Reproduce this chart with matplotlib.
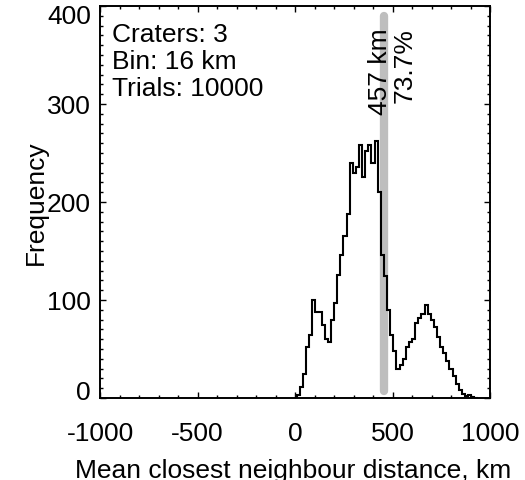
import numpy as np
import matplotlib
matplotlib.use('Agg')
import matplotlib.pyplot as plt
import matplotlib.transforms as mtransforms
from matplotlib.ticker import MultipleLocator

# histogram of mean closest neighbour distance (16 km bins)
bin_start = 8
bin_width = 16
counts = [3, 11, 25, 52, 64, 100, 88, 88, 74, 60,
          57, 80, 97, 126, 146, 165, 188, 240, 230, 236,
          258, 226, 252, 258, 240, 262, 210, 146, 125, 90,
          64, 48, 30, 34, 40, 52, 57, 60, 77, 82,
          86, 95, 86, 80, 72, 62, 52, 46, 38, 30,
          22, 14, 8, 4, 2, 3, 1, 0]

observed_km = 457
observed_pct = 73.7
info_lines = ['Craters: 3', 'Bin: 16 km', 'Trials: 10000']
xticks = [-1000, -500, 0, 500, 1000]
yticks = [0, 100, 200, 300, 400]

plt.rcParams['font.family'] = ['Liberation Sans', 'DejaVu Sans']
plt.rcParams['font.size'] = 19
plt.rcParams['axes.unicode_minus'] = False

fig = plt.figure(figsize=(5.25, 4.8), dpi=100)
ax = fig.add_axes([0.1905, 0.1708, 0.7429, 0.8167])

edges = bin_start + bin_width * np.arange(len(counts) + 1)
ax.plot([observed_km, observed_km], [7, 390], color='#bebebe', lw=6,
        solid_capstyle='round', zorder=1)
ax.stairs(counts, edges, color='black', lw=1.5, zorder=2)

ax.text(472, 377, f'{observed_km} km', rotation=90,
        rotation_mode='anchor', ha='right', va='baseline')
ax.text(600, 377, f'{observed_pct}%', rotation=90,
        rotation_mode='anchor', ha='right', va='baseline')

for i, line in enumerate(info_lines):
    ax.text(0.031, 0.908 - 0.069 * i, line, transform=ax.transAxes,
            ha='left', va='baseline')

ax.set_xlim(-1000, 1000)
ax.set_ylim(0, 400)
ax.set_xticks(xticks)
ax.set_yticks(yticks)
ax.xaxis.set_minor_locator(MultipleLocator(100))
ax.yaxis.set_minor_locator(MultipleLocator(10))
ax.tick_params(which='both', direction='in', top=True, right=True, width=1)
ax.tick_params(which='major', length=4)
ax.tick_params(which='minor', length=2)
ax.tick_params(axis='x', which='major', pad=17.5)
ax.tick_params(axis='y', which='major', pad=6.5)
for s in ax.spines.values():
    s.set_linewidth(1.4)

ax.set_xlabel('Mean closest neighbour distance, km')
ax.set_ylabel('Frequency')
ax.xaxis.set_label_coords(0.496, -0.156)
ax.yaxis.set_label_coords(-0.133, 0.499)

# pull the end labels of the y axis inward
fig.canvas.draw()
ylabels = ax.get_yticklabels()
ylabels[0].set_transform(ylabels[0].get_transform() +
                         mtransforms.ScaledTranslation(0, 8 / 100, fig.dpi_scale_trans))
ylabels[-1].set_transform(ylabels[-1].get_transform() +
                          mtransforms.ScaledTranslation(0, -9 / 100, fig.dpi_scale_trans))

fig.savefig('out.png', dpi=100)
